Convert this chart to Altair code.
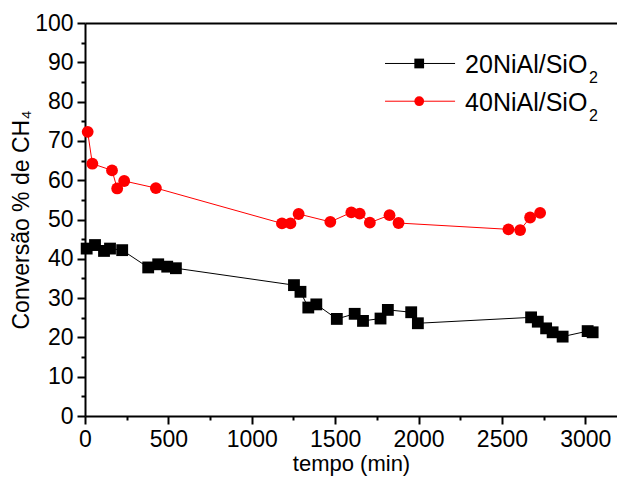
import altair as alt
import pandas as pd

# ---- data ----
t_20 = [10, 60, 114, 150, 223, 379, 439, 493, 545, 1253, 1292, 1339, 1387, 1510,
        1617, 1667, 1772, 1816, 1956, 1996, 2675, 2715, 2765, 2804, 2864, 3014, 3044]
v_20 = [42.6, 43.5, 42.0, 42.6, 42.2, 37.8, 38.6, 38.0, 37.6, 33.3, 31.6, 27.6, 28.4, 24.7,
        26.0, 24.2, 24.8, 27.0, 26.4, 23.6, 25.1, 24.0, 22.3, 21.3, 20.2, 21.6, 21.3]
t_40 = [16, 44, 162, 193, 235, 425, 1181, 1232, 1281, 1471, 1597, 1647, 1708, 1826,
        1880, 2539, 2609, 2669, 2729]
v_40 = [72.3, 64.2, 62.5, 57.9, 59.8, 58.0, 49.0, 49.0, 51.4, 49.4, 51.8, 51.5, 49.2, 51.1,
        49.1, 47.5, 47.3, 50.5, 51.7]

series = ["20NiAl/SiO2", "40NiAl/SiO2"]
legend_main = ["20NiAl/SiO", "40NiAl/SiO"]
legend_sub = ["2", "2"]
colors = ["#000000", "#ff0000"]
shapes = ["square", "circle"]

x_major = [0, 500, 1000, 1500, 2000, 2500, 3000]
x_minor = [250, 750, 1250, 1750, 2250, 2750]
y_major = [0, 10, 20, 30, 40, 50, 60, 70, 80, 90, 100]
y_minor = [5, 15, 25, 35, 45, 55, 65, 75, 85, 95]

# legend placement (in data units)
leg_y = [89.7, 80.1]
leg_x0, leg_x1, leg_xm, leg_xt = 1799, 2219, 2004, 2279

FONT = "Liberation Sans"

df = pd.DataFrame({
    "t": t_20 + t_40,
    "v": v_20 + v_40,
    "serie": [series[0]] * len(t_20) + [series[1]] * len(t_40),
})
leg = pd.DataFrame({
    "serie": series,
    "main": legend_main,
    "sub": legend_sub,
    "ly": leg_y,
    "x0": [leg_x0] * 2,
    "x1": [leg_x1] * 2,
    "xm": [leg_xm] * 2,
    "xt": [leg_xt] * 2,
})

xs = alt.Scale(domain=[0, 3190], nice=False, zero=False)
ys = alt.Scale(domain=[0, 100], nice=False, zero=False)
cs = alt.Scale(domain=series, range=colors)
ss = alt.Scale(domain=series, range=shapes)

common_axis = dict(grid=False, labelFont=FONT, titleFont=FONT, labelColor="black",
                   titleColor="black", tickColor="black", domainColor="black",
                   titleFontWeight="normal")

x_main_axis = alt.Axis(orient="bottom", values=x_major, format="d", tickSize=8, tickWidth=2,
                       domainWidth=2, labelFontSize=23, labelPadding=4,
                       title="tempo (min)", titleFontSize=22, titlePadding=2,
                       labelFlush=False, labelOverlap=False, **common_axis)
y_main_axis = alt.Axis(orient="left", values=y_major, format="d", tickSize=8, tickWidth=2,
                       domainWidth=2, labelFontSize=23, labelPadding=4,
                       title="Conversão % de CH₄", titleFontSize=23, titlePadding=1,
                       labelFlush=False, labelOverlap=False, **common_axis)
x_minor_axis = alt.Axis(orient="bottom", values=x_minor, tickSize=4, tickWidth=2,
                        labels=False, domain=False, title=None, **common_axis)
y_minor_axis = alt.Axis(orient="left", values=y_minor, tickSize=4, tickWidth=2,
                        labels=False, domain=False, title=None, **common_axis)
x_top_axis = alt.Axis(orient="top", ticks=False, labels=False, domainWidth=2,
                      title=None, **common_axis)
y_right_axis = alt.Axis(orient="right", ticks=False, labels=False, domainWidth=1,
                        title=None, grid=False, domainColor="#c0c0c0")

base = alt.Chart(df)

lines = base.mark_line(strokeWidth=1).encode(
    x=alt.X("t:Q", scale=xs, axis=x_main_axis),
    y=alt.Y("v:Q", scale=ys, axis=y_main_axis),
    color=alt.Color("serie:N", scale=cs, legend=None),
)

points = base.mark_point(filled=True, size=140, opacity=1).encode(
    x=alt.X("t:Q", scale=xs, axis=None),
    y=alt.Y("v:Q", scale=ys, axis=None),
    color=alt.Color("serie:N", scale=cs, legend=None),
    shape=alt.Shape("serie:N", scale=ss, legend=None),
)

minor = base.mark_point(opacity=0).encode(
    x=alt.X("t:Q", scale=xs, axis=x_minor_axis),
    y=alt.Y("v:Q", scale=ys, axis=y_minor_axis),
)

frame = base.mark_point(opacity=0).encode(
    x=alt.X("t:Q", scale=xs, axis=x_top_axis),
    y=alt.Y("v:Q", scale=ys, axis=y_right_axis),
)

lbase = alt.Chart(leg)
leg_rules = lbase.mark_rule(strokeWidth=1).encode(
    x=alt.X("x0:Q", scale=xs, axis=None),
    x2="x1:Q",
    y=alt.Y("ly:Q", scale=ys, axis=None),
    color=alt.Color("serie:N", scale=cs, legend=None),
)
leg_pts = lbase.mark_point(filled=True, size=95, opacity=1).encode(
    x=alt.X("xm:Q", scale=xs, axis=None),
    y=alt.Y("ly:Q", scale=ys, axis=None),
    color=alt.Color("serie:N", scale=cs, legend=None),
    shape=alt.Shape("serie:N", scale=ss, legend=None),
)
leg_txt = lbase.mark_text(align="left", baseline="alphabetic", fontSize=25,
                          font=FONT, color="black", dy=10).encode(
    x=alt.X("xt:Q", scale=xs, axis=None),
    y=alt.Y("ly:Q", scale=ys, axis=None),
    text="main:N",
)
leg_sub = lbase.mark_text(align="left", baseline="alphabetic", fontSize=16,
                          font=FONT, color="black", dx=124, dy=20).encode(
    x=alt.X("xt:Q", scale=xs, axis=None),
    y=alt.Y("ly:Q", scale=ys, axis=None),
    text="sub:N",
)

chart = alt.layer(
    lines, points, minor, frame, leg_rules, leg_pts, leg_txt, leg_sub
).resolve_axis(x="independent", y="independent").properties(
    width=532,
    height=393,
    padding={"left": 77, "top": 15, "right": 0, "bottom": 64},
    autosize=alt.AutoSizeParams(type="none"),
    background="white",
).configure_view(stroke=None)

chart.save("out.html", embed_options={"renderer": "svg", "actions": False})
